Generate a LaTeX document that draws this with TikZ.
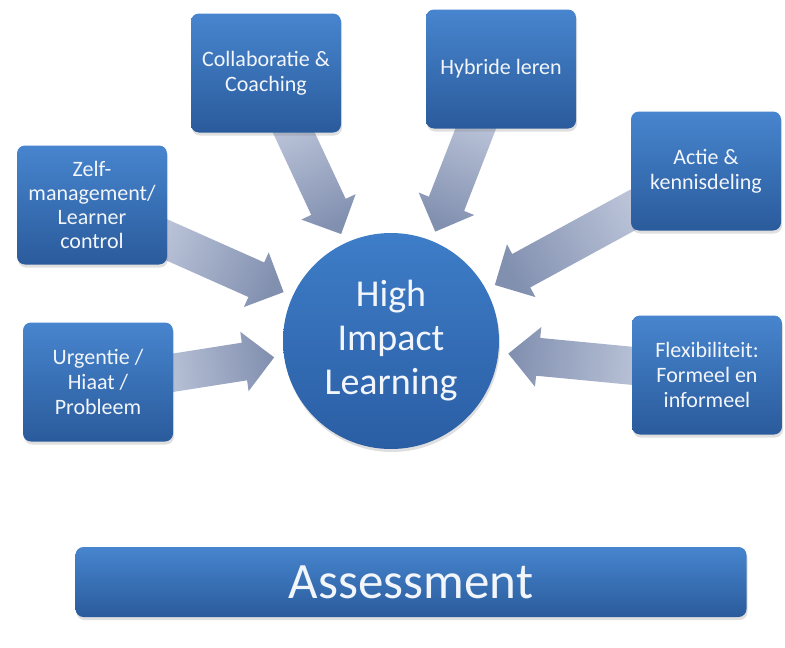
\documentclass[tikz,border=0pt]{standalone}
\usepackage{fontspec}
\setmainfont{Carlito}
\usetikzlibrary{calc,positioning,backgrounds,shadows}

\definecolor{boxtop}{HTML}{4785CE}
\definecolor{boxbot}{HTML}{2A5B9C}
\definecolor{hubtop}{HTML}{3E7DC8}
\definecolor{hubbot}{HTML}{2A5EA4}
\definecolor{arrlight}{HTML}{B9C2D7}
\definecolor{arrdark}{HTML}{8290B0}
\definecolor{txt}{HTML}{F2F5FA}

\tikzset{
  topic/.style={rectangle, rounded corners=8pt, minimum width=150pt, minimum height=119pt,
    inner sep=2pt, align=center, text=txt, top color=boxtop, bottom color=boxbot,
    drop shadow={shadow xshift=1pt, shadow yshift=-3pt, opacity=0.25},
    font=\fontsize{22}{25}\selectfont},
  hub/.style={circle, minimum size=216pt, inner sep=0pt, align=center, text=txt,
    top color=hubtop, bottom color=hubbot,
    drop shadow={shadow xshift=1pt, shadow yshift=-3pt, opacity=0.25},
    font=\fontsize{38}{44}\selectfont},
  arrowbody/.style={top color=arrlight, bottom color=arrdark}
}

% block arrow from a topic box to the hub
\newcommand{\fatarrow}[1]{%
  \pgfmathanglebetweenpoints{\pgfpointanchor{hil}{center}}{\pgfpointanchor{#1}{center}}%
  \let\hubang\pgfmathresult
  \pgfmathsetmacro{\arrang}{\hubang-90}%
  \pgfmathsetmacro{\tailang}{mod(\hubang+180,360)}%
  \coordinate (#1-tip) at ($(hil.center)!118pt!(#1.center)$);
  \coordinate (#1-base) at ($(#1-tip)!30pt!(#1.center)$);
  \coordinate (#1-tail) at ($(#1.\tailang)!-10pt!(#1-tip)$);
  \path[arrowbody, shading angle=\arrang]
    ($(#1-tail)!19pt!90:(#1-tip)$) -- ($(#1-base)!19pt!90:(#1-tip)$)
    -- ($(#1-base)!30pt!90:(#1-tip)$) -- (#1-tip)
    -- ($(#1-base)!30pt!-90:(#1-tip)$) -- ($(#1-base)!19pt!-90:(#1-tip)$)
    -- ($(#1-tail)!19pt!-90:(#1-tip)$) -- cycle;
}

\begin{document}
\begin{tikzpicture}[x=1pt,y=-1pt]
  \useasboundingbox (0,0) rectangle (785,648);

  \node[hub] (hil) at (391,341) {High\\Impact\\Learning};

  \node[topic, font=\fontsize{22}{24}\selectfont] (zelf) at (92,205)
    {Zelf-\\management/\\Learner\\control};
  \node[topic] (urgentie) at (98,382) {Urgentie /\\Hiaat /\\Probleem};
  \node[topic] (collab) at (266,73) {Collaboratie \&\\Coaching};
  \node[topic] (hybride) at (501,69) {Hybride leren};
  \node[topic] (actie) at (706,171) {Actie \&\\kennisdeling};
  \node[topic] (flex) at (707,375) {Flexibiliteit:\\Formeel en\\informeel};

  \node[topic, minimum width=671pt, minimum height=70pt,
    font=\fontsize{51}{56}\selectfont] (assess) at (411,582) {Assessment};

  \begin{scope}[on background layer]
    \foreach \topicname in {zelf,urgentie,collab,hybride,actie,flex}
      \fatarrow{\topicname};
  \end{scope}
\end{tikzpicture}
\end{document}
